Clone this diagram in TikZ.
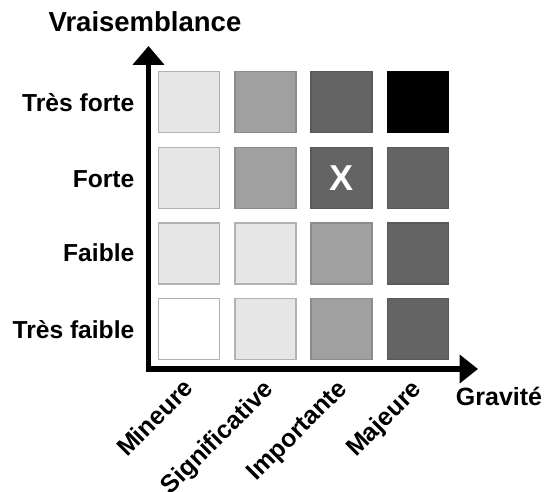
\documentclass[tikz,border=0pt]{standalone}
\usepackage{fontspec}
\setmainfont{Liberation Sans}
\usetikzlibrary{arrows.meta}
\definecolor{cwhite}{HTML}{FFFFFF}
\definecolor{clight}{HTML}{E6E6E6}
\definecolor{cmid}{HTML}{A0A0A0}
\definecolor{cdark}{HTML}{646464}
\definecolor{cblack}{HTML}{000000}
\tikzset{
  cell/.style={line width=1.2pt, minimum size=61pt, inner sep=0pt, outer sep=0pt},
  cW/.style={cell, fill=cwhite, draw=black!30},
  cL/.style={cell, fill=clight, draw=black!30},
  cM/.style={cell, fill=cmid, draw=black!45},
  cD/.style={cell, fill=cdark, draw=black!65},
  cB/.style={cell, fill=cblack, draw=black},
  rowlab/.style={anchor=east, font=\fontsize{24.6}{28}\selectfont\bfseries, inner sep=0pt},
  collab/.style={anchor=north east, rotate=45, font=\fontsize{25}{28}\selectfont\bfseries, inner sep=0pt},
  axistitle/.style={font=\fontsize{27.5}{30}\selectfont\bfseries, inner sep=0pt},
  axisline/.style={line width=5.5pt, line join=miter}
}
\begin{document}
\begin{tikzpicture}[x=1pt,y=-1pt]
\useasboundingbox (0,0) rectangle (549,492);
% squares
\foreach \r/\y in {1/102.2,2/178,3/253.5,4/328.8}{
  \foreach \c/\x in {1/189.2,2/265.4,3/341.4,4/418}{
    \coordinate (p\r\c) at (\x,\y);
  }
}
\node[cL] (s11) at (p11) {};
\node[cM] (s12) at (p12) {};
\node[cD] (s13) at (p13) {};
\node[cB] (s14) at (p14) {};
\node[cL] (s21) at (p21) {};
\node[cM] (s22) at (p22) {};
\node[cD, text=white, font=\fontsize{36}{40}\selectfont\bfseries] (s23) at (p23) {X};
\node[cD] (s24) at (p24) {};
\node[cL] (s31) at (p31) {};
\node[cL] (s32) at (p32) {};
\node[cM] (s33) at (p33) {};
\node[cD] (s34) at (p34) {};
\node[cW] (s41) at (p41) {};
\node[cL] (s42) at (p42) {};
\node[cM] (s43) at (p43) {};
\node[cD] (s44) at (p44) {};
% axes
\coordinate (vtip) at (148.5,46);
\coordinate (corner) at (148.5,369);
\coordinate (htip) at (478,369);
\draw[axisline, {Triangle[length=19pt,width=31pt]}-{Triangle[length=18.5pt,width=28pt]}] (vtip) -- (corner) -- (htip);
% row labels
\node[rowlab] (r1) at (134.5,102.5) {Très forte};
\node[rowlab] (r2) at (134.5,179) {Forte};
\node[rowlab] (r3) at (134.5,253) {Faible};
\node[rowlab] (r4) at (134.5,330) {Très faible};
% column labels
\node[collab] (c1) at (182,377) {Mineure};
\node[collab] (c2) at (262,378) {Significative};
\node[collab] (c3) at (336,378) {Importante};
\node[collab] (c4) at (410,378) {Majeure};
% axis titles
\node[axistitle] (ty) at (145,21.7) {Vraisemblance};
\node[axistitle, font=\fontsize{25}{28}\selectfont\bfseries] (tx) at (499,396.7) {Gravité};
\end{tikzpicture}
\end{document}
